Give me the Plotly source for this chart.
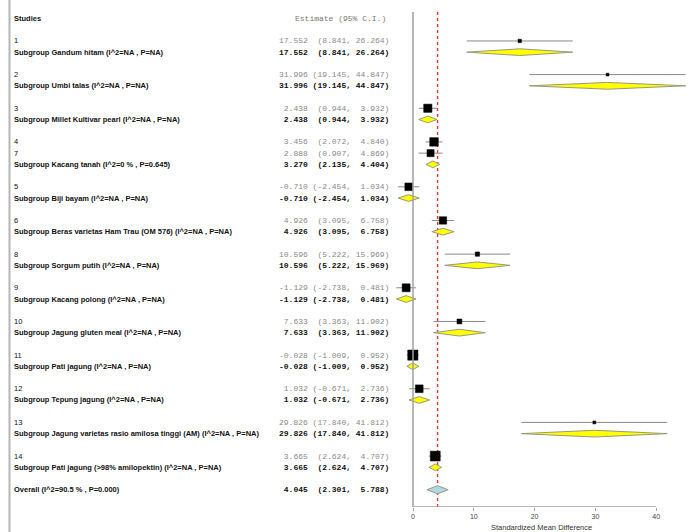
import plotly.graph_objects as go

# ---------------- data ----------------
study_ids = ["1", "2", "3", "4", "7", "5", "6", "8", "9", "10", "11", "12", "13", "14"]
study_group = [0, 1, 2, 3, 3, 4, 5, 6, 7, 8, 9, 10, 11, 12]
study_est = [17.552, 31.996, 2.438, 3.456, 2.888, -0.710, 4.926, 10.596, -1.129, 7.633, -0.028, 1.032, 29.826, 3.665]
study_lo = [8.841, 19.145, 0.944, 2.072, 0.907, -2.454, 3.095, 5.222, -2.738, 3.363, -1.009, -0.671, 17.840, 2.624]
study_hi = [26.264, 44.847, 3.932, 4.840, 4.869, 1.034, 6.758, 15.969, 0.481, 11.902, 0.952, 2.736, 41.812, 4.707]

sub_names = [
    "Gandum hitam (I^2=NA , P=NA)",
    "Umbi talas (I^2=NA , P=NA)",
    "Millet Kultivar pearl (I^2=NA , P=NA)",
    "Kacang tanah (I^2=0 % , P=0.645)",
    "Biji bayam (I^2=NA , P=NA)",
    "Beras varietas Ham Trau (OM 576) (I^2=NA , P=NA)",
    "Sorgum putih (I^2=NA , P=NA)",
    "Kacang polong (I^2=NA , P=NA)",
    "Jagung gluten meal (I^2=NA , P=NA)",
    "Pati jagung (I^2=NA , P=NA)",
    "Tepung jagung (I^2=NA , P=NA)",
    "Jagung varietas rasio amilosa tinggi (AM) (I^2=NA , P=NA)",
    "Pati jagung (>98% amilopektin) (I^2=NA , P=NA)",
]
sub_est = [17.552, 31.996, 2.438, 3.270, -0.710, 4.926, 10.596, -1.129, 7.633, -0.028, 1.032, 29.826, 3.665]
sub_lo = [8.841, 19.145, 0.944, 2.135, -2.454, 3.095, 5.222, -2.738, 3.363, -1.009, -0.671, 17.840, 2.624]
sub_hi = [26.264, 44.847, 3.932, 4.404, 1.034, 6.758, 15.969, 0.481, 11.902, 0.952, 2.736, 41.812, 4.707]

overall_label = "Overall (I^2=90.5 % , P=0.000)"
overall_est = 4.045
overall_lo = 2.301
overall_hi = 5.788

x_ticks = [0, 10, 20, 30, 40]
x_title = "Standardized Mean Difference"

# ---------------- geometry ----------------
W, H = 690, 532
X0_PX, PX_PER_UNIT = 413.0, 6.08
Y0_PX, DY_PX = 18.5, 11.22
AXIS_PX = 507.0


def px_to_x(px):
    return (px - X0_PX) / PX_PER_UNIT


def px_to_row(py):
    return (py - Y0_PX) / DY_PX


def fmt(e, lo, hi):
    s = f"{e:6.3f} " + f"({lo:.3f},".rjust(8) + " " + f"{hi:6.3f})"
    return s.replace(" ", "\u00a0")


# layout rows
study_rows, sub_rows = [], []
r = 2
for g in range(len(sub_names)):
    for k, gg in enumerate(study_group):
        if gg == g:
            study_rows.append(r)
            r += 1
    sub_rows.append(r)
    r += 2
overall_row = r

fig = go.Figure()

# CI lines for studies
cx, cy = [], []
for lo, hi, rr in zip(study_lo, study_hi, study_rows):
    cx += [lo, hi, None]
    cy += [rr, rr, None]
fig.add_trace(go.Scatter(x=cx, y=cy, mode="lines", line=dict(color="#8a8a8a", width=1),
                         hoverinfo="skip", showlegend=False, cliponaxis=False))

# squares (size from precision)
sizes = []
for lo, hi in zip(study_lo, study_hi):
    se = (hi - lo) / 3.92
    sizes.append(max(2.5, 7.2 * (1.0 / se) ** 0.5))
fig.add_trace(go.Scatter(x=study_est, y=study_rows, mode="markers", opacity=1,
                         marker=dict(symbol="square", size=sizes, color="#000000", opacity=1,
                                     line=dict(width=0.5, color="#000000")),
                         hoverinfo="skip", showlegend=False, cliponaxis=False))


def diamond_trace(est, lo, hi, rows, h, fill):
    dx, dy = [], []
    for e, l, u, rr in zip(est, lo, hi, rows):
        dx += [l, e, u, e, l, None]
        dy += [rr, rr - h, rr, rr + h, rr, None]
    return go.Scatter(x=dx, y=dy, mode="lines", fill="toself", fillcolor=fill,
                      line=dict(color="#9a9a7a", width=1), hoverinfo="skip",
                      showlegend=False, cliponaxis=False)


fig.add_trace(diamond_trace(sub_est, sub_lo, sub_hi, sub_rows, 0.30, "#ffff00"))
fig.add_trace(diamond_trace([overall_est], [overall_lo], [overall_hi], [overall_row], 0.36, "#add8e6"))

# ---------------- shapes ----------------
shapes = []
top_row = px_to_row(12)
axis_row = px_to_row(AXIS_PX)
# left border
shapes.append(dict(type="line", xref="paper", yref="paper", x0=9.5 / W, x1=9.5 / W, y0=0, y1=1,
                   line=dict(color="#b5b5b5", width=2)))
# zero line
shapes.append(dict(type="line", xref="x", yref="y", x0=0, x1=0, y0=top_row, y1=axis_row,
                   line=dict(color="#a0a0a0", width=1.5)))
# axis line
shapes.append(dict(type="line", xref="x", yref="y", x0=0, x1=40, y0=axis_row, y1=axis_row,
                   line=dict(color="#a0a0a0", width=1.5)))
# overall dotted line (under the marks)
shapes.append(dict(type="line", xref="x", yref="y", x0=overall_est, x1=overall_est, y0=top_row, y1=axis_row,
                   layer="below", line=dict(color="#ff3030", width=1.4, dash="dot")))

# ---------------- annotations ----------------
ann = []
LBL_X = 12 / W
EST_X = 277 / W
sans = "Liberation Sans, Arial, sans-serif"
mono = "Liberation Mono, Courier New, monospace"


def add_text(x, row, text, family, size, color, bold=False):
    t = f"<b>{text}</b>" if bold else text
    ann.append(dict(x=x, y=row, xref="paper", yref="y", text=t, showarrow=False,
                    xanchor="left", yanchor="middle", font=dict(family=family, size=size, color=color)))


add_text(LBL_X, 0, "Studies", sans, 7.5, "#111111", bold=True)
add_text(293 / W, 0, "Estimate (95% C.I.)".replace(" ", "\u00a0"), mono, 8, "#777777")

for sid, e, lo, hi, rr in zip(study_ids, study_est, study_lo, study_hi, study_rows):
    add_text(LBL_X, rr, sid, sans, 7.5, "#111111")
    add_text(EST_X, rr, fmt(e, lo, hi), mono, 8, "#8a8a8a")

for name, e, lo, hi, rr in zip(sub_names, sub_est, sub_lo, sub_hi, sub_rows):
    add_text(LBL_X, rr, "Subgroup " + name, sans, 7.5, "#111111", bold=True)
    add_text(EST_X, rr, fmt(e, lo, hi), mono, 8, "#111111", bold=True)

add_text(LBL_X, overall_row, overall_label, sans, 7.5, "#111111", bold=True)
add_text(EST_X, overall_row, fmt(overall_est, overall_lo, overall_hi), mono, 8, "#111111", bold=True)

ann.append(dict(x=541 / W, y=(H - 527) / H, xref="paper", yref="paper", text=x_title, showarrow=False,
                xanchor="center", yanchor="middle", font=dict(family=sans, size=7.5, color="#333333")))

fig.update_layout(
    width=W, height=H,
    margin=dict(l=0, r=0, t=0, b=0, pad=0),
    paper_bgcolor="white", plot_bgcolor="white",
    showlegend=False,
    shapes=shapes, annotations=ann,
    xaxis=dict(range=[px_to_x(0), px_to_x(W)], domain=[0, 1], tickvals=x_ticks,
               ticktext=[str(v) for v in x_ticks], ticks="outside", ticklen=3, tickwidth=1,
               tickcolor="#a0a0a0", tickfont=dict(family=sans, size=7, color="#444444"),
               showgrid=False, zeroline=False, showline=False, fixedrange=True),
    yaxis=dict(range=[px_to_row(AXIS_PX), px_to_row(0)], domain=[(H - AXIS_PX) / H, 1],
               showgrid=False, zeroline=False, showline=False, showticklabels=False,
               ticks="", fixedrange=True),
)

fig.write_html(
    "out.html",
    config={"displayModeBar": False},
    post_script="document.body.style.margin='0';document.body.style.padding='0';"
                "document.body.style.overflow='hidden';",
)
